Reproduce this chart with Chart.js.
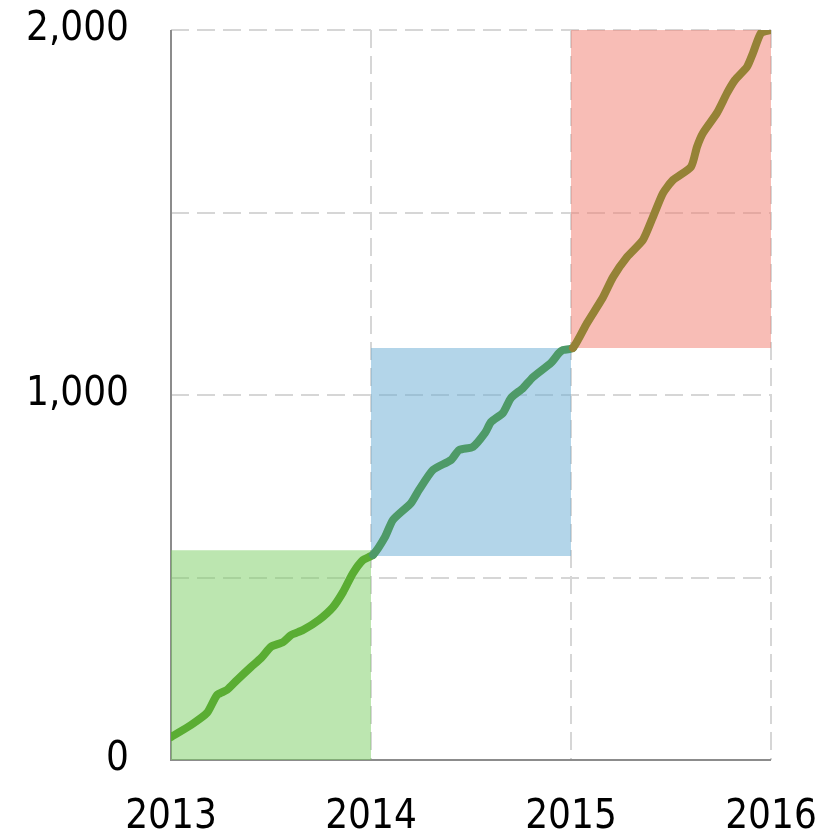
<!DOCTYPE html>
<html>
<head>
<meta charset="utf-8">
<script src="https://cdn.jsdelivr.net/npm/chart.js@4"></script>
<style>
  html, body { margin: 0; padding: 0; background: #fff; }
  #wrap { width: 829px; height: 832px; }
</style>
</head>
<body>
<div id="wrap"><canvas id="myChart" width="829" height="832"></canvas></div>
<script>
// years on the x axis
const years = [2013, 2014, 2015, 2016];
const yTicks = [0, 1000, 2000];

// cumulative line (x in fractional years)
const lineX = [
  2013.00, 2013.10, 2013.18, 2013.23, 2013.28, 2013.33, 2013.40, 2013.45, 2013.50, 2013.56,
  2013.60, 2013.66, 2013.74, 2013.81, 2013.86, 2013.91, 2013.96, 2014.01,
  2014.07, 2014.11, 2014.20, 2014.24, 2014.31, 2014.40, 2014.44, 2014.51, 2014.57, 2014.60,
  2014.66, 2014.70, 2014.76, 2014.81, 2014.90, 2014.94, 2014.96, 2015.01,
  2015.08, 2015.16, 2015.21, 2015.28, 2015.36, 2015.41, 2015.46, 2015.51, 2015.60, 2015.63,
  2015.66, 2015.73, 2015.78, 2015.82, 2015.88, 2015.91, 2015.95, 2016.00
];
const lineY = [
  63, 96, 129, 178, 192, 219, 255, 279, 310, 323,
  342, 356, 384, 419, 460, 512, 548, 562,
  611, 658, 704, 740, 795, 822, 849, 858, 896, 926,
  951, 992, 1019, 1049, 1088, 1115, 1123, 1129,
  1197, 1268, 1323, 1378, 1425, 1488, 1553, 1589, 1625, 1680,
  1718, 1773, 1827, 1863, 1899, 1937, 1992, 2000
];

// shaded boxes: [bottom, top] for each year span
const greenBox = [0, 575];
const blueBox = [559, 1129];
const redBox = [1129, 2000];

const font = "'DejaVu Sans Condensed', sans-serif";

function boxDataset(x0, x1, range, color) {
  return {
    data: [{ x: x0, y: range[1] }, { x: x1, y: range[1] }],
    borderWidth: 0,
    pointRadius: 0,
    backgroundColor: color,
    fill: { value: range[0] },
    order: 2
  };
}

function segColor(ctx) {
  const x = ctx.p0.parsed.x;
  if (x < 2014) return '#5aad33';
  if (x < 2015) return '#4e9a68';
  return '#958236';
}

const ctx = document.getElementById('myChart').getContext('2d');
new Chart(ctx, {
  type: 'line',
  data: {
    datasets: [
      {
        data: lineX.map((x, i) => ({ x, y: lineY[i] })),
        borderWidth: 8,
        borderColor: '#5aad33',
        pointRadius: 0,
        tension: 0.2,
        fill: false,
        segment: { borderColor: segColor },
        borderCapStyle: 'round',
        borderJoinStyle: 'round',
        order: 0
      },
      boxDataset(years[0], years[1], greenBox, 'rgba(121, 205, 97, 0.5)'),
      boxDataset(years[1], years[2], blueBox, 'rgba(103, 171, 211, 0.5)'),
      boxDataset(years[2], years[3], redBox, 'rgba(241, 123, 109, 0.5)')
    ]
  },
  options: {
    responsive: false,
    animation: false,
    layout: { padding: { top: 30, right: 58, bottom: 0, left: 0 } },
    plugins: { legend: { display: false }, tooltip: { enabled: false } },
    scales: {
      x: {
        type: 'linear',
        min: 2013,
        max: 2016,
        afterFit: s => { s.height = 72; s.paddingLeft = 0; s.paddingRight = 0; },
        ticks: {
          stepSize: 1,
          color: '#000',
          font: { family: font, size: 40 },
          padding: 34,
          callback: v => String(v)
        },
        grid: { color: '#d6d6d6', lineWidth: 2, drawTicks: false },
        border: { display: false, dash: [18, 8] }
      },
      y: {
        min: 0,
        max: 2000,
        afterFit: s => { s.width = 171; s.paddingTop = 0; s.paddingBottom = 0; },
        ticks: {
          stepSize: 500,
          color: '#000',
          font: { family: font, size: 40 },
          padding: 42,
          callback: v => yTicks.includes(v) ? v.toLocaleString('en-US') : ''
        },
        grid: { color: '#d6d6d6', lineWidth: 2, drawTicks: false },
        border: { display: false, dash: [18, 8] }
      }
    }
  },
  plugins: [{
    // solid grey axis lines on the left and bottom
    id: 'axes',
    beforeDatasetsDraw(chart) {
      const { ctx, chartArea: a } = chart;
      ctx.save();
      ctx.strokeStyle = '#8c8c8c';
      ctx.lineWidth = 2;
      ctx.beginPath();
      ctx.moveTo(a.left, a.top);
      ctx.lineTo(a.left, a.bottom);
      ctx.lineTo(a.right, a.bottom);
      ctx.stroke();
      ctx.restore();
    }
  }]
});
</script>
</body>
</html>
